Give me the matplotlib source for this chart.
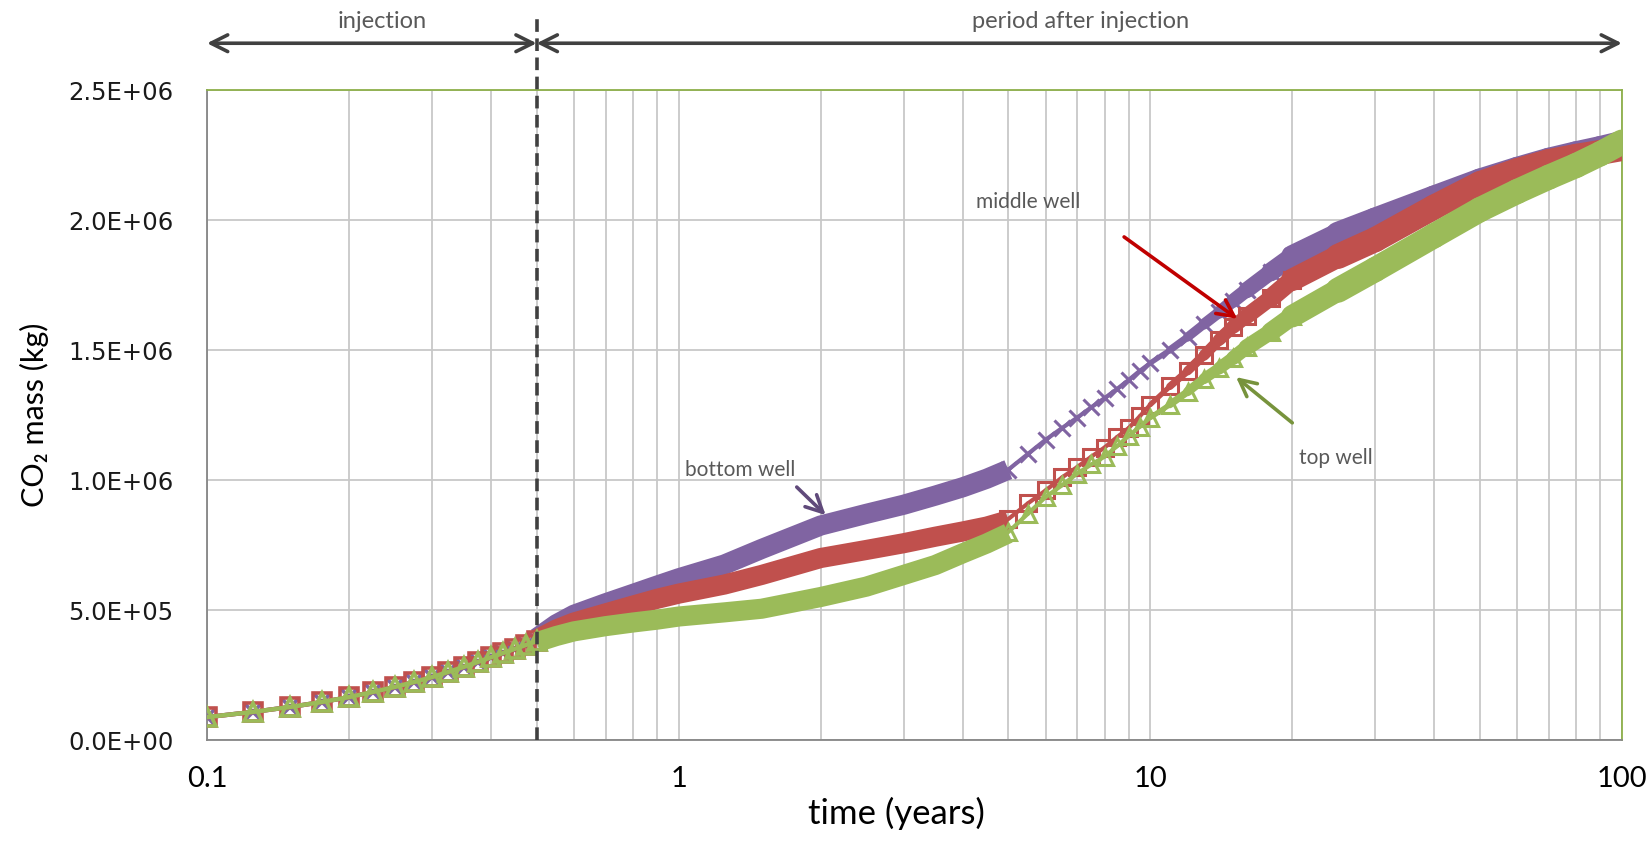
import matplotlib
matplotlib.use("Agg")
import numpy as np
import matplotlib.pyplot as plt
from matplotlib.collections import LineCollection
from matplotlib.ticker import FuncFormatter, MultipleLocator, LogLocator, NullFormatter

# injection period (0.1 - 0.5 yr), the three wells lie on top of each other
inj_time = [0.1, 0.125, 0.15, 0.175, 0.2, 0.225, 0.25, 0.275, 0.3, 0.325,
            0.35, 0.375, 0.4, 0.425, 0.45, 0.475, 0.5]
inj_mass = [88e3, 108e3, 127e3, 146e3, 165e3, 185e3, 204e3, 223e3, 242e3, 262e3,
            281e3, 300e3, 318e3, 335e3, 351e3, 366e3, 380e3]

# after injection, dense output (0.5 - 5 yr)
early_time = [0.5, 0.55, 0.6, 0.7, 0.8, 0.9, 1.0, 1.25, 1.5, 2.0, 2.5, 3.0, 3.5,
              4.0, 4.5, 5.0]
early_bottom = [392e3, 445e3, 482e3, 526e3, 562e3, 594e3, 622e3, 675e3, 735e3,
                825e3, 870e3, 905e3, 940e3, 972e3, 1005e3, 1040e3]
early_middle = [386e3, 425e3, 452e3, 487e3, 517e3, 543e3, 563e3, 598e3, 635e3,
                700e3, 731e3, 757e3, 782e3, 802e3, 821e3, 845e3]
early_top = [376e3, 400e3, 418e3, 438e3, 452e3, 463e3, 475e3, 491e3, 505e3,
             550e3, 590e3, 635e3, 673e3, 718e3, 756e3, 795e3]

# after injection, coarser output (5 - 100 yr)
late_time = [5, 5.5, 6, 6.5, 7, 7.5, 8, 8.5, 9, 9.5, 10, 11, 12, 13, 14, 15, 16,
             18, 20, 25, 30, 40, 50, 60, 70, 80, 90, 100]
late_bottom = [1.04e6, 1.10e6, 1.155e6, 1.20e6, 1.24e6, 1.28e6, 1.315e6, 1.35e6,
               1.385e6, 1.42e6, 1.45e6, 1.50e6, 1.55e6, 1.60e6, 1.645e6, 1.69e6,
               1.73e6, 1.80e6, 1.86e6, 1.945e6, 2.0e6, 2.085e6, 2.15e6, 2.195e6,
               2.23e6, 2.255e6, 2.275e6, 2.295e6]
late_middle = [0.85e6, 0.91e6, 0.96e6, 1.01e6, 1.05e6, 1.09e6, 1.125e6, 1.165e6,
               1.20e6, 1.245e6, 1.29e6, 1.36e6, 1.42e6, 1.48e6, 1.54e6, 1.59e6,
               1.63e6, 1.70e6, 1.77e6, 1.86e6, 1.925e6, 2.05e6, 2.14e6, 2.19e6,
               2.225e6, 2.245e6, 2.26e6, 2.275e6]
late_top = [0.80e6, 0.87e6, 0.935e6, 0.98e6, 1.025e6, 1.06e6, 1.09e6, 1.13e6,
            1.17e6, 1.205e6, 1.24e6, 1.29e6, 1.34e6, 1.39e6, 1.43e6, 1.47e6,
            1.51e6, 1.57e6, 1.63e6, 1.73e6, 1.81e6, 1.94e6, 2.04e6, 2.11e6,
            2.165e6, 2.21e6, 2.255e6, 2.30e6]

x_ticks = [0.1, 1, 10, 100]

wells = [
    # label, early, late, colour, marker, arrow colour
    ("bottom well", early_bottom, late_bottom, "#8064A2", "x", "#604A7B"),
    ("middle well", early_middle, late_middle, "#C0504D", "s", "#C00000"),
    ("top well", early_top, late_top, "#9BBB59", "^", "#77933C"),
]

fig = plt.figure(figsize=(16.52, 8.51), dpi=100)
ax = fig.add_axes([0.1253, 0.1304, 0.8565, 0.7638])

n_sparse = late_time.index(20) + 1

for z, (name, early, late, col, mk, _) in enumerate(wells):
    zo = 3 + z
    face = col if mk == "x" else "none"
    # injection points
    ax.plot(inj_time, inj_mass, color=col, lw=3.2, marker=mk, ms=13, mew=2.6,
            mfc=face, mec=col, zorder=zo)
    # dense output shows up as a thick band
    ax.plot(early_time, early, color=col, lw=14.5, solid_capstyle="butt", zorder=zo)
    # coarse output: markers get denser with time and merge into a band
    pts = np.column_stack([late_time, late])
    segs = np.stack([pts[:-1], pts[1:]], axis=1)
    tmid = np.sqrt(np.array(late_time[:-1]) * np.array(late_time[1:]))
    widths = 3 + 15 * np.clip((np.log10(tmid) - 1) / np.log10(2.5), 0, 1)
    lc = LineCollection(segs, colors=col, linewidths=widths, capstyle="round",
                        joinstyle="round", zorder=zo)
    ax.add_collection(lc)
    ax.plot(late_time[:n_sparse], late[:n_sparse], ls="none", marker=mk,
            ms=11, mew=2.2, mfc=face, mec=col, zorder=zo)

ax.set_xscale("log")
ax.set_xlim(0.1, 100)
ax.set_ylim(0, 2.5e6)
ax.set_xticks(x_ticks)
ax.xaxis.set_major_formatter(FuncFormatter(lambda v, p: "%g" % v))
ax.xaxis.set_minor_locator(LogLocator(base=10, subs=range(2, 10)))
ax.xaxis.set_minor_formatter(NullFormatter())
ax.yaxis.set_major_locator(MultipleLocator(5e5))
ax.yaxis.set_major_formatter(FuncFormatter(lambda v, p: "%.1E" % v))

ax.grid(axis="x", which="both", color="#c8c8c8", lw=1.3, zorder=0)
ax.grid(axis="y", which="major", color="#c8c8c8", lw=1.3, zorder=0)
ax.set_axisbelow(True)
ax.tick_params(which="both", length=0)
ax.tick_params(axis="y", pad=24, labelsize=17.5, labelcolor="#1a1a1a")
ax.tick_params(axis="x", pad=19)
for lab in ax.get_xticklabels():
    lab.set_fontfamily("Lato")
    lab.set_fontsize(21)

for side in ["left", "bottom"]:
    ax.spines[side].set_color("#868686")
    ax.spines[side].set_linewidth(1.3)
for side in ["top", "right"]:
    ax.spines[side].set_color("#8db04a")
    ax.spines[side].set_linewidth(1.3)

ax.set_xlabel("time (years)", family=["Lato", "DejaVu Sans"], fontsize=25)
ax.xaxis.set_label_coords(0.487, -0.088)
ax.set_ylabel("CO\u2082 mass (kg)", family=["Lato", "DejaVu Sans"], fontsize=22)
ax.yaxis.set_label_coords(-0.112, 0.5)

# end of injection and the two periods
xt = ax.get_xaxis_transform()
ax.plot([0.5, 0.5], [0, 1.115], transform=xt, color="#404040", lw=2.6,
        ls=(0, (3.5, 1.8)), clip_on=False, zorder=10)
for x0, x1, txt, xtxt in [(0.1, 0.5, "injection", 0.235),
                          (0.5, 100, "period after injection", 7.1)]:
    ax.annotate("", xy=(x0, 1.072), xytext=(x1, 1.072), xycoords=xt,
                arrowprops=dict(arrowstyle="<->,head_length=0.6,head_width=0.3",
                                lw=2.6, color="#404040", shrinkA=0, shrinkB=0,
                                mutation_scale=20),
                annotation_clip=False)
    ax.text(xtxt, 1.105, txt, transform=xt, ha="center", va="center",
            fontsize=17, family="Lato", color="#595959")

# well labels with pointers
labels = {
    "bottom well": ((1.35, 1.04e6), (1.78, 0.973e6), (2.05, 0.865e6)),
    "middle well": ((5.5, 2.07e6), (8.8, 1.935e6), (15.3, 1.62e6)),
    "top well": ((24.7, 1.085e6), (20.0, 1.22e6), (15.2, 1.396e6)),
}
for name, early, late, col, mk, acol in wells:
    (tx, ty), tail, head = labels[name]
    ax.text(tx, ty, name, ha="center", va="center", fontsize=15, family="Lato",
            color="#595959", zorder=12)
    ax.annotate("", xy=head, xytext=tail,
                arrowprops=dict(arrowstyle="->,head_length=0.6,head_width=0.3",
                                lw=2.6, color=acol, shrinkA=0, shrinkB=0,
                                mutation_scale=20),
                zorder=12)

fig.savefig("out.png", dpi=100)
